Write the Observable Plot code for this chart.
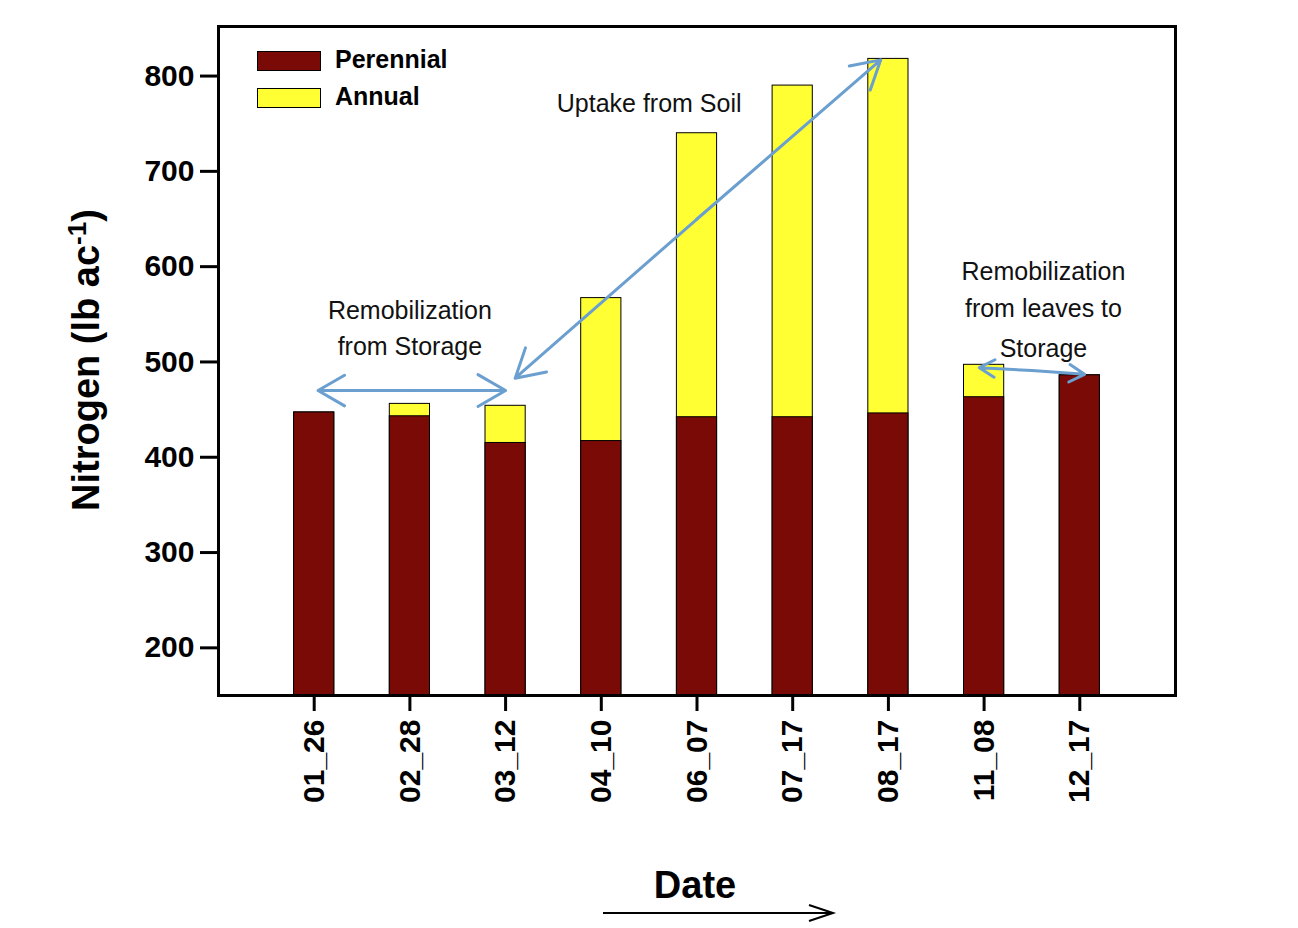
<!DOCTYPE html><html><head>
<script src="https://cdn.jsdelivr.net/npm/d3@7"></script>
<script src="https://cdn.jsdelivr.net/npm/@observablehq/plot@0.6"></script>
<style>body{margin:0;background:#fff;font-family:"Liberation Sans",Arial,sans-serif}
#wrap{position:relative;width:1298px;height:928px}
.ov{position:absolute;white-space:nowrap}
</style></head><body><div id="wrap"></div>
<script>
const dates=["01_26","02_28","03_12","04_10","06_07","07_17","08_17","11_08","12_17"];
const perennial=[447,443,415,417,442,442,446,463,486];
const total=[447,456,454,567,740,790,818,497,486];
const yTicks=[200,300,400,500,600,700,800];
const rows=dates.map((d,i)=>({i,d,p:perennial[i],t:total[i]}));
const bw=0.21;
const arrows=[
 {x1:1,y1:470,x2:0.04,y2:470},{x1:1,y1:470,x2:2.0,y2:470},
 {x1:4.0,y1:650,x2:2.1,y2:483},{x1:4.0,y1:650,x2:5.92,y2:817},
 {x1:7.5,y1:491,x2:6.95,y2:494},{x1:7.5,y1:491,x2:8.05,y2:487}];
const notes=[
 {x:1.0,y:553,t:"Remobilization"},{x:1.0,y:516,t:"from Storage"},
 {x:3.5,y:771,t:"Uptake from Soil"},
 {x:7.62,y:594,t:"Remobilization"},{x:7.62,y:556,t:"from leaves to"},{x:7.62,y:514,t:"Storage"}];
const chart=Plot.plot({
 width:1298,height:928,marginLeft:218,marginTop:26,marginRight:123,marginBottom:233,
 style:{fontFamily:"Liberation Sans, Arial, sans-serif"},
 x:{type:"linear",domain:[-1,9],axis:null},
 y:{domain:[150,852],axis:null},
 marks:[
  Plot.rect(rows,{x1:d=>d.i-bw,x2:d=>d.i+bw,y1:150,y2:"t",fill:"#ffff33",stroke:"#000",strokeWidth:1}),
  Plot.rect(rows,{x1:d=>d.i-bw,x2:d=>d.i+bw,y1:150,y2:"p",fill:"#7a0a05",stroke:"#000",strokeWidth:1}),
  Plot.frame({stroke:"#000",strokeWidth:3}),
  Plot.axisY(yTicks,{tickSize:18,tickPadding:6,fontSize:30,fontWeight:"bold",strokeWidth:3,label:null}),
  Plot.tickX(rows,{x:"i",y1:150,y2:150,stroke:"none"}),
  Plot.axisX(rows.map(d=>d.i),{tickSize:16,strokeWidth:3,tickFormat:i=>dates[i],tickRotate:-90,fontSize:30,fontWeight:"bold",tickPadding:8,label:null}),
  Plot.arrow(arrows,{x1:"x1",y1:"y1",x2:"x2",y2:"y2",stroke:"#6a9fd0",strokeWidth:3,headLength:16}),
  Plot.text(notes,{x:"x",y:"y",text:"t",fontSize:25,fill:"#111"})
 ]});
const wrap=document.getElementById("wrap");
wrap.appendChild(chart);
function ov(html,style){const d=document.createElement("div");d.className="ov";d.innerHTML=html;d.style.cssText+=style;wrap.appendChild(d);}
ov('<span style="display:inline-block;width:62px;height:18px;background:#7a0a05;border:1px solid #000;vertical-align:middle;margin-right:14px"></span>Perennial','left:257px;top:45px;font-size:25px;font-weight:bold');
ov('<span style="display:inline-block;width:62px;height:18px;background:#ffff33;border:1px solid #000;vertical-align:middle;margin-right:14px"></span>Annual','left:257px;top:82px;font-size:25px;font-weight:bold');
ov('Nitrogen (lb ac<sup style="font-size:26px">-1</sup>)','left:85px;top:360px;font-size:38px;font-weight:bold;transform:translate(-50%,-50%) rotate(-90deg)');
ov('Date','left:695px;top:885px;font-size:38px;font-weight:bold;transform:translate(-50%,-50%)');
ov('<svg width="240" height="20"><line x1="0" y1="10" x2="228" y2="10" stroke="#000" stroke-width="2"/><path d="M206,2 L230,10 L206,18" fill="none" stroke="#000" stroke-width="2"/></svg>','left:603px;top:903px');
</script></body></html>
